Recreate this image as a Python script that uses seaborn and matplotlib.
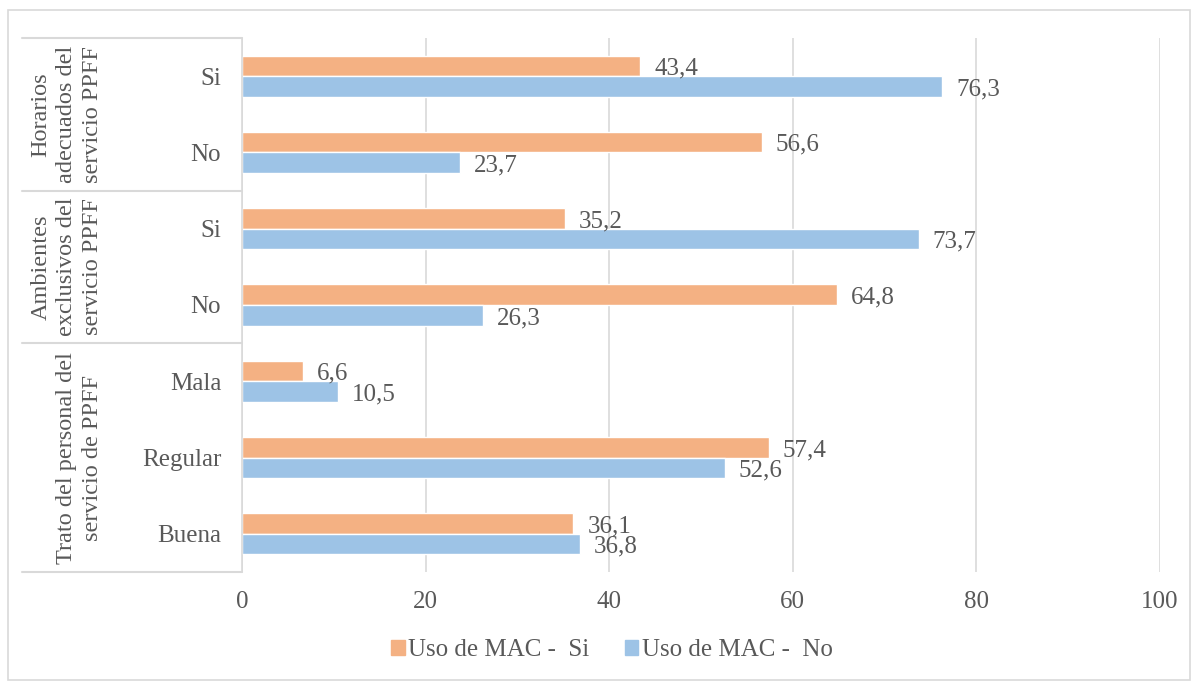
import numpy as np
import pandas as pd
import seaborn as sns
import matplotlib
matplotlib.use('Agg')
import matplotlib.pyplot as plt
from matplotlib.patches import Rectangle

# Data (top to bottom).
groups = ["Horarios\nadecuados del\nservicio PPFF",
          "Ambientes\nexclusivos del\nservicio PPFF",
          "Trato del personal del\nservicio de PPFF"]
group_sizes = [2, 2, 3]
categories = ["Si", "No", "Si", "No", "Mala", "Regular", "Buena"]
mac_si = [43.4, 56.6, 35.2, 64.8, 6.6, 57.4, 36.1]
mac_no = [76.3, 23.7, 73.7, 26.3, 10.5, 52.6, 36.8]
series = ["Uso de MAC -  Si", "Uso de MAC -  No"]
colors = ["#F4B183", "#9DC3E6"]
xticks = [0, 20, 40, 60, 80, 100]

text_color = "#595959"
line_color = "#D9D9D9"
fs = 18

keys = ["c{}".format(i) for i in range(len(categories))]
df = pd.DataFrame({
    "key": keys * 2,
    "value": mac_si + mac_no,
    "serie": [series[0]] * len(keys) + [series[1]] * len(keys),
})

sns.set_style("white")
plt.rcParams['font.family'] = ['Liberation Serif', 'DejaVu Serif']

fig = plt.figure(figsize=(11.93, 6.81), dpi=100)
ax = fig.add_axes([242 / 1193, 1 - 572 / 681, (1160 - 242) / 1193, (572 - 38) / 681])

sns.barplot(data=df, y="key", x="value", hue="serie", orient="h",
            order=keys, hue_order=series, palette=colors, width=0.54,
            saturation=1, ax=ax, legend=False)

fmt = lambda v: "{:.1f}".format(v).replace(".", ",")
for cont in ax.containers:
    labels = ax.bar_label(cont, fmt=fmt, padding=10, fontsize=fs, color=text_color)
    for t in labels:
        # Excel puts the labels a touch below the bar centre
        t.set_y(t.get_position()[1])
        t.xyann = (t.xyann[0], -2)

ax.set_xlim(0, 100)
ax.set_ylim(len(keys) - 0.5, -0.5)
ax.set_xticks(xticks)
ax.set_xticklabels([str(x) for x in xticks], fontsize=fs, color=text_color)
ax.set_yticks(range(len(keys)))
ax.set_yticklabels(categories, fontsize=fs, color=text_color)
ax.tick_params(axis="both", length=0)
ax.tick_params(axis="y", pad=15)
ax.tick_params(axis="x", pad=14)
ax.set_xlabel("")
ax.set_ylabel("")
ax.xaxis.grid(True, color=line_color, linewidth=1.2)
ax.set_axisbelow(True)
for s in ["top", "right", "bottom"]:
    ax.spines[s].set_visible(False)
ax.spines["left"].set_color(line_color)
ax.spines["left"].set_linewidth(1.2)

# Group separators and rotated group labels in the left margin.
x_left = (22 - 242) / (1160 - 242)
trans = ax.get_yaxis_transform()
bounds = np.concatenate([[0], np.cumsum(group_sizes)]) - 0.5
for b in bounds:
    ax.plot([x_left, 0], [b, b], color=line_color, linewidth=1.5,
            transform=trans, clip_on=False)
for g, lo, hi in zip(groups, bounds[:-1], bounds[1:]):
    ax.text((103 - 242) / (1160 - 242), (lo + hi) / 2, g, transform=trans,
            rotation=90, ha="right", va="center", multialignment="center",
            fontsize=17.5, color=text_color, linespacing=1.3)

# Legend
handles = [Rectangle((0, 0), 1, 1, color=c) for c in colors]
fig.legend(handles, series, loc="center", bbox_to_anchor=(0.513, 1 - 650 / 681),
           ncol=2, frameon=False, fontsize=fs, handlelength=0.55,
           handleheight=0.55, handletextpad=0.15, columnspacing=1.4,
           labelcolor=text_color)

# Outer chart border
fig.patches.append(Rectangle((8 / 1193, 1 / 681), 1182 / 1193, 670 / 681,
                             transform=fig.transFigure, fill=False,
                             edgecolor=line_color, linewidth=1.2))

fig.savefig("out.png", dpi=100)
plt.close()
